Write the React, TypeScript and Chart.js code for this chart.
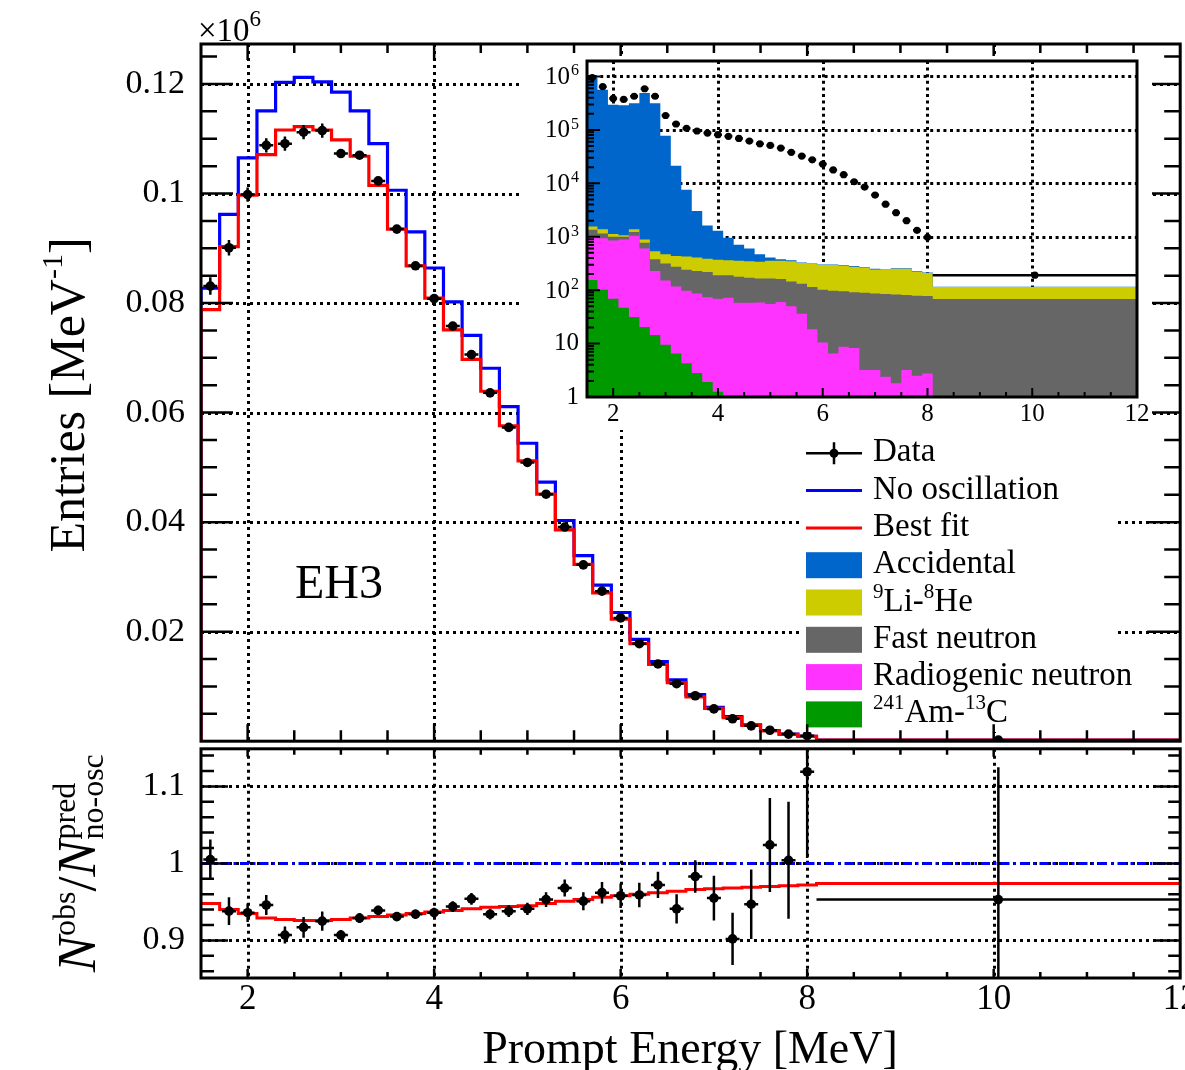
import React, { useEffect, useRef } from "react";
import { Chart, registerables } from "chart.js";

Chart.register(...registerables);

const SERIF = "'Liberation Serif', 'Times New Roman', Times, serif";

// ---------------- data ----------------
const binEdges = [1.5, 1.7, 1.9, 2.1, 2.3, 2.5, 2.7, 2.9, 3.1, 3.3, 3.5, 3.7, 3.9, 4.1, 4.3, 4.5, 4.7, 4.9, 5.1, 5.3, 5.5, 5.7, 5.9, 6.1, 6.3, 6.5, 6.7, 6.9, 7.1, 7.3, 7.5, 7.7, 7.9, 8.1, 12];

// main panel, entries per MeV (x10^6)
const noOscillation = [0.0827, 0.0962, 0.1065, 0.1151, 0.1203, 0.1212, 0.1204, 0.1185, 0.1151, 0.1091, 0.1006, 0.0930, 0.0864, 0.0802, 0.0741, 0.0681, 0.0611, 0.0544, 0.0473, 0.0403, 0.0339, 0.0285, 0.0235, 0.0186, 0.01455, 0.0112, 0.0085, 0.0062, 0.0045, 0.0030, 0.00195, 0.0013, 0.0009, 0.0002];
const bestFit = [0.0788, 0.0903, 0.0997, 0.1071, 0.1116, 0.1122, 0.1116, 0.1098, 0.1068, 0.1015, 0.0935, 0.0868, 0.0809, 0.0751, 0.0697, 0.0639, 0.0576, 0.0512, 0.0451, 0.0386, 0.0323, 0.0271, 0.0223, 0.0178, 0.0140, 0.0107, 0.0081, 0.0060, 0.0043, 0.0029, 0.0019, 0.00125, 0.00088, 0.0002];
const dataMain = [0.0831, 0.0901, 0.0998, 0.1088, 0.1091, 0.1112, 0.1115, 0.1073, 0.1070, 0.1023, 0.0935, 0.0868, 0.0808, 0.0758, 0.0706, 0.0636, 0.0573, 0.0509, 0.0451, 0.0391, 0.0322, 0.0274, 0.0225, 0.0178, 0.0141, 0.0105, 0.0083, 0.0059, 0.0041, 0.0028, 0.0020, 0.0013, 0.0010, 0.00019];
const dataMainErr = [0.0016, 0.0014, 0.0013, 0.0013, 0.0013, 0.0013, 0.0013, 0.0007, 0.0007, 0.0006, 0.0006, 0.0006, 0.0005, 0.0005, 0.0005, 0.0005, 0.0005, 0.0004, 0.0004, 0.0004, 0.0004, 0.0004, 0.0003, 0.0003, 0.0003, 0.0002, 0.0002, 0.0002, 0.00015, 0.00013, 0.00012, 0.0001, 0.0001, 0.00003];

// ratio panel
const ratioData = [1.005, 0.938, 0.936, 0.946, 0.907, 0.917, 0.925, 0.907, 0.929, 0.939, 0.931, 0.934, 0.936, 0.944, 0.954, 0.934, 0.938, 0.941, 0.953, 0.968, 0.951, 0.962, 0.958, 0.959, 0.972, 0.941, 0.983, 0.955, 0.902, 0.947, 1.024, 1.004, 1.119, 0.953];
const ratioErr = [0.026, 0.018, 0.012, 0.013, 0.011, 0.0135, 0.0125, 0.0065, 0.0065, 0.006, 0.006, 0.006, 0.0065, 0.007, 0.0077, 0.007, 0.0075, 0.008, 0.0096, 0.011, 0.0117, 0.014, 0.016, 0.016, 0.017, 0.019, 0.021, 0.029, 0.034, 0.045, 0.061, 0.076, 0.112, 0.172];
const ratioBestFit = [0.948, 0.940, 0.935, 0.929, 0.927, 0.926, 0.926, 0.927, 0.929, 0.931, 0.933, 0.935, 0.937, 0.939, 0.941, 0.943, 0.944, 0.945, 0.948, 0.951, 0.953, 0.956, 0.958, 0.960, 0.962, 0.964, 0.966, 0.967, 0.968, 0.969, 0.970, 0.971, 0.972, 0.974];
const ratioNoOsc = [1, 1];

// inset (log scale), stacked layer tops
const insetData = [955000, 646000, 389000, 372000, 427000, 589000, 427000, 186000, 129000, 107000, 95500, 87100, 81300, 75900, 69200, 61700, 55000, 51300, 45700, 38000, 32400, 27500, 22900, 17800, 14500, 10700, 8500, 6030, 4070, 2820, 2000, 1320, 977, 191];
const accidentalTop = [933000, 562000, 295000, 288000, 316000, 490000, 316000, 77600, 21400, 7590, 3020, 1620, 1290, 955, 708, 603, 468, 407, 380, 363, 331, 316, 302, 302, 295, 282, 269, 251, 245, 257, 257, 229, 214, 116];
const liHeTop = [1549, 1380, 1122, 1072, 1380, 891, 537, 468, 437, 427, 407, 389, 372, 363, 355, 347, 339, 355, 355, 347, 324, 309, 295, 295, 288, 275, 263, 245, 240, 251, 251, 224, 209, 115];
const fastNeutronTop = [1349, 1148, 1000, 1000, 1230, 776, 380, 316, 275, 240, 229, 219, 191, 191, 178, 170, 166, 166, 162, 145, 132, 115, 102, 98, 95, 91, 89, 87, 85, 83, 81, 79, 78, 68];
const radiogenicTop = [1000, 933, 851, 891, 1047, 603, 229, 151, 117, 98, 87, 74, 69, 72, 58, 58, 59, 55, 60, 50, 36, 18.6, 10.5, 6.5, 8.7, 8.3, 3.2, 3.2, 2.4, 1.8, 3.2, 2.5, 2.75, 1];
const amcTop = [155, 102, 69, 47, 31.6, 20.4, 14.5, 9.5, 6.5, 4.3, 2.8, 1.9, 1.25, 1, 1, 1, 1, 1, 1, 1, 1, 1, 1, 1, 1, 1, 1, 1, 1, 1, 1, 1, 1, 1];

// ticks / labels
const energyTickLabels = [2, 4, 6, 8, 10, 12];
const mainYTickLabels = [0.02, 0.04, 0.06, 0.08, 0.1, 0.12];
const ratioYTickLabels = [0.9, 1, 1.1];
const insetDecades = [0, 1, 2, 3, 4, 5, 6];

const COLORS = {
  blue: "#0000ff",
  red: "#ff0000",
  accidental: "#0066cc",
  lihe: "#cccc00",
  fastn: "#666666",
  radiogenic: "#ff33ff",
  amc: "#009900",
};

// ---------------- helpers ----------------
const centers = binEdges.slice(0, -1).map((e, i) => (e + binEdges[i + 1]) / 2);
const xHalf = binEdges.slice(0, -1).map((e, i) => {
  const w = binEdges[i + 1] - e;
  return w > 0.5 ? w / 2 : 0.075;
});

function stepPoints(values: number[], floor?: number) {
  const pts: { x: number; y: number }[] = [];
  if (floor !== undefined) pts.push({ x: binEdges[0], y: floor });
  values.forEach((v, i) => {
    pts.push({ x: binEdges[i], y: v });
    pts.push({ x: binEdges[i + 1], y: v });
  });
  return pts;
}

const energyMajor = energyTickLabels.slice();
const energyMinor: number[] = [];
for (let k = 4; k <= 23; k++) {
  const v = k * 0.5;
  if (v % 2 !== 0) energyMinor.push(v);
}
const mainYMinor: number[] = [];
for (let k = 1; k <= 25; k++) if (k % 4 !== 0) mainYMinor.push(k * 0.005);
const mainYMajor = [0, ...mainYTickLabels];
const ratioYMinor: number[] = [];
for (let k = 43; k <= 57; k++) if (k % 5 !== 0) ratioYMinor.push(k * 0.02);
const insetYMajor = insetDecades.map((d) => Math.pow(10, d));
const insetYMinor: number[] = [];
insetDecades.forEach((d) => {
  for (let m = 2; m <= 9; m++) insetYMinor.push(m * Math.pow(10, d));
});

type Part = { t: string; size: number; dy?: number; italic?: boolean };
function fontOf(p: Part) {
  return `${p.italic ? "italic " : ""}${p.size}px ${SERIF}`;
}
function partsWidth(ctx: CanvasRenderingContext2D, parts: Part[]) {
  let w = 0;
  for (const p of parts) {
    ctx.font = fontOf(p);
    w += ctx.measureText(p.t).width;
  }
  return w;
}
function drawParts(ctx: CanvasRenderingContext2D, x: number, y: number, parts: Part[]) {
  let cx = x;
  for (const p of parts) {
    ctx.font = fontOf(p);
    ctx.fillText(p.t, cx, y + (p.dy || 0));
    cx += ctx.measureText(p.t).width;
  }
  return cx;
}

function gridPlugin(xVals: number[], yVals: number[], lw: number, dash: number[]) {
  return {
    id: "rootGrid",
    beforeDatasetsDraw(chart: any) {
      const { ctx, chartArea: a, scales } = chart;
      ctx.save();
      ctx.strokeStyle = "#000";
      ctx.lineWidth = lw;
      ctx.setLineDash(dash);
      ctx.beginPath();
      for (const v of xVals) {
        const px = Math.round(scales.x.getPixelForValue(v)) + 0.5;
        if (px <= a.left + 1 || px >= a.right - 1) continue;
        ctx.moveTo(px, a.top);
        ctx.lineTo(px, a.bottom);
      }
      for (const v of yVals) {
        const py = Math.round(scales.y.getPixelForValue(v)) + 0.5;
        if (py <= a.top + 1 || py >= a.bottom - 1) continue;
        ctx.moveTo(a.left, py);
        ctx.lineTo(a.right, py);
      }
      ctx.stroke();
      ctx.restore();
    },
  };
}

function errorBarsPlugin(xs: number[], ys: number[], xh: number[], ye: number[], lw: number) {
  return {
    id: "errorBars",
    afterDatasetsDraw(chart: any) {
      const { ctx, chartArea: a, scales } = chart;
      const sx = scales.x;
      const sy = scales.y;
      ctx.save();
      ctx.beginPath();
      ctx.rect(a.left, a.top, a.right - a.left, a.bottom - a.top);
      ctx.clip();
      ctx.strokeStyle = "#000";
      ctx.lineWidth = lw;
      ctx.beginPath();
      for (let i = 0; i < xs.length; i++) {
        const px = sx.getPixelForValue(xs[i]);
        const py = sy.getPixelForValue(ys[i]);
        ctx.moveTo(sx.getPixelForValue(xs[i] - xh[i]), py);
        ctx.lineTo(sx.getPixelForValue(xs[i] + xh[i]), py);
        if (ye[i] > 0) {
          ctx.moveTo(px, sy.getPixelForValue(ys[i] + ye[i]));
          ctx.lineTo(px, sy.getPixelForValue(ys[i] - ye[i]));
        }
      }
      ctx.stroke();
      ctx.restore();
    },
  };
}

type Len = [number, number];
function framePlugin(spec: {
  xMajor: number[];
  xMinor: number[];
  yMajor: number[];
  yMinor: number[];
  left: Len;
  right: Len;
  top: Len;
  bottom: Len;
  tickLw: number;
  frameLw: number;
}) {
  return {
    id: "rootFrame",
    afterDraw(chart: any) {
      const { ctx, chartArea: a, scales } = chart;
      ctx.save();
      ctx.strokeStyle = "#000";
      ctx.setLineDash([]);
      ctx.lineWidth = spec.tickLw;
      ctx.beginPath();
      const xs: [number[], number][] = [
        [spec.xMajor, 0],
        [spec.xMinor, 1],
      ];
      for (const [vals, k] of xs) {
        for (const v of vals) {
          const px = scales.x.getPixelForValue(v);
          if (px <= a.left + 1 || px >= a.right - 1) continue;
          if (spec.bottom[k]) {
            ctx.moveTo(px, a.bottom);
            ctx.lineTo(px, a.bottom - spec.bottom[k]);
          }
          if (spec.top[k]) {
            ctx.moveTo(px, a.top);
            ctx.lineTo(px, a.top + spec.top[k]);
          }
        }
      }
      const ys: [number[], number][] = [
        [spec.yMajor, 0],
        [spec.yMinor, 1],
      ];
      for (const [vals, k] of ys) {
        for (const v of vals) {
          const py = scales.y.getPixelForValue(v);
          if (py <= a.top + 1 || py >= a.bottom - 1) continue;
          if (spec.left[k]) {
            ctx.moveTo(a.left, py);
            ctx.lineTo(a.left + spec.left[k], py);
          }
          if (spec.right[k]) {
            ctx.moveTo(a.right, py);
            ctx.lineTo(a.right - spec.right[k], py);
          }
        }
      }
      ctx.stroke();
      ctx.lineWidth = spec.frameLw;
      ctx.strokeRect(a.left, a.top, a.right - a.left, a.bottom - a.top);
      ctx.restore();
    },
  };
}

function fixAxis(size: number, horizontal: boolean) {
  return (s: any) => {
    if (horizontal) s.height = size;
    else s.width = size;
    s.paddingTop = 0;
    s.paddingBottom = 0;
    s.paddingLeft = 0;
    s.paddingRight = 0;
  };
}

const legendRows: { kind: string; color: string; parts: { t: string; sup?: boolean }[] }[] = [
  { kind: "data", color: "#000", parts: [{ t: "Data" }] },
  { kind: "line", color: COLORS.blue, parts: [{ t: "No oscillation" }] },
  { kind: "line", color: COLORS.red, parts: [{ t: "Best fit" }] },
  { kind: "box", color: COLORS.accidental, parts: [{ t: "Accidental" }] },
  { kind: "box", color: COLORS.lihe, parts: [{ t: "9", sup: true }, { t: "Li-" }, { t: "8", sup: true }, { t: "He" }] },
  { kind: "box", color: COLORS.fastn, parts: [{ t: "Fast neutron" }] },
  { kind: "box", color: COLORS.radiogenic, parts: [{ t: "Radiogenic neutron" }] },
  { kind: "box", color: COLORS.amc, parts: [{ t: "241", sup: true }, { t: "Am-" }, { t: "13", sup: true }, { t: "C" }] },
];

const mainTextPlugin = {
  id: "mainText",
  afterDatasetsDraw(chart: any) {
    const ctx: CanvasRenderingContext2D = chart.ctx;
    ctx.save();
    // legend
    ctx.fillStyle = "#fff";
    ctx.fillRect(800, 429, 315, 303);
    legendRows.forEach((row, i) => {
      const c = 453.3 + 37.3 * i;
      if (row.kind === "box") {
        ctx.fillStyle = row.color;
        ctx.fillRect(806, c - 13, 56, 26);
      } else if (row.kind === "line") {
        ctx.strokeStyle = row.color;
        ctx.lineWidth = 3;
        ctx.beginPath();
        ctx.moveTo(806, c);
        ctx.lineTo(862, c);
        ctx.stroke();
      } else {
        ctx.strokeStyle = "#000";
        ctx.lineWidth = 2.5;
        ctx.beginPath();
        ctx.moveTo(806, c);
        ctx.lineTo(862, c);
        ctx.moveTo(834, c - 11);
        ctx.lineTo(834, c + 11);
        ctx.stroke();
        ctx.fillStyle = "#000";
        ctx.beginPath();
        ctx.arc(834, c, 4.5, 0, Math.PI * 2);
        ctx.fill();
      }
      ctx.fillStyle = "#000";
      ctx.textAlign = "left";
      ctx.textBaseline = "alphabetic";
      drawParts(
        ctx,
        873,
        c + 8,
        row.parts.map((p) => (p.sup ? { t: p.t, size: 21, dy: -13 } : { t: p.t, size: 33 }))
      );
    });
    ctx.restore();
  },
  afterDraw(chart: any) {
    const ctx: CanvasRenderingContext2D = chart.ctx;
    ctx.save();
    ctx.fillStyle = "#000";
    ctx.textAlign = "left";
    ctx.textBaseline = "alphabetic";
    // x10^6
    drawParts(ctx, 198, 41, [
      { t: "\u00d710", size: 33 },
      { t: "6", size: 23, dy: -15 },
    ]);
    // EH3
    ctx.font = `48px ${SERIF}`;
    ctx.fillText("EH3", 295, 598);
    // y title
    ctx.translate(84, 395);
    ctx.rotate(-Math.PI / 2);
    const parts: Part[] = [
      { t: "Entries [MeV", size: 50 },
      { t: "-1", size: 30, dy: -22 },
      { t: "]", size: 50 },
    ];
    const w = partsWidth(ctx, parts);
    drawParts(ctx, -w / 2, 0, parts);
    ctx.restore();
  },
};

const ratioTextPlugin = {
  id: "ratioText",
  afterDraw(chart: any) {
    const ctx: CanvasRenderingContext2D = chart.ctx;
    ctx.save();
    ctx.fillStyle = "#000";
    ctx.textBaseline = "alphabetic";
    ctx.textAlign = "center";
    ctx.font = `46px ${SERIF}`;
    ctx.fillText("Prompt Energy [MeV]", 690, 319);
    ctx.textAlign = "left";
    ctx.translate(95, 228);
    ctx.rotate(-Math.PI / 2);
    const x = drawParts(ctx, 0, 0, [
      { t: "N", size: 54, italic: true },
      { t: "obs", size: 32, dy: -20 },
      { t: "/", size: 54 },
      { t: "N", size: 54, italic: true },
    ]);
    drawParts(ctx, x + 1, 0, [{ t: "pred", size: 32, dy: -20 }]);
    drawParts(ctx, x + 1, 0, [{ t: "no-osc", size: 32, dy: 8 }]);
    ctx.restore();
  },
};

const insetTextPlugin = {
  id: "insetText",
  beforeDraw(chart: any) {
    const ctx: CanvasRenderingContext2D = chart.ctx;
    ctx.save();
    ctx.fillStyle = "#fff";
    ctx.fillRect(0, 0, chart.width, chart.height);
    ctx.restore();
  },
  afterDraw(chart: any) {
    const ctx: CanvasRenderingContext2D = chart.ctx;
    const a = chart.chartArea;
    const sy = chart.scales.y;
    ctx.save();
    ctx.fillStyle = "#000";
    const xr = a.left - 8;
    insetDecades.forEach((d) => {
      const py = sy.getPixelForValue(Math.pow(10, d));
      ctx.textAlign = "right";
      ctx.textBaseline = "middle";
      ctx.font = `25px ${SERIF}`;
      if (d === 0) {
        ctx.fillText("1", xr, py);
      } else if (d === 1) {
        ctx.fillText("10", xr, py);
      } else {
        ctx.font = `16px ${SERIF}`;
        const ew = ctx.measureText(String(d)).width;
        ctx.textBaseline = "alphabetic";
        ctx.fillText(String(d), xr, py - 1);
        ctx.font = `25px ${SERIF}`;
        ctx.textBaseline = "middle";
        ctx.fillText("10", xr - ew - 1, py + 1);
      }
    });
    ctx.restore();
  },
};

const tickFont = (size: number) => ({ family: SERIF, size });

export default function App() {
  const mainRef = useRef<HTMLCanvasElement>(null);
  const ratioRef = useRef<HTMLCanvasElement>(null);
  const insetRef = useRef<HTMLCanvasElement>(null);

  useEffect(() => {
    const charts: Chart[] = [];

    // ---------- main panel ----------
    charts.push(
      new Chart(mainRef.current as HTMLCanvasElement, {
        type: "line",
        data: {
          datasets: [
            {
              label: "Data",
              data: centers.map((x, i) => ({ x, y: dataMain[i] })),
              showLine: false,
              pointRadius: 4.8,
              pointBackgroundColor: "#000",
              pointBorderWidth: 0,
              order: 0,
            },
            {
              label: "Best fit",
              data: stepPoints(bestFit, 0),
              borderColor: COLORS.red,
              borderWidth: 3.2,
              pointRadius: 0,
              fill: false,
              order: 1,
            },
            {
              label: "No oscillation",
              data: stepPoints(noOscillation, 0),
              borderColor: COLORS.blue,
              borderWidth: 3.2,
              pointRadius: 0,
              fill: false,
              order: 2,
            },
          ] as any,
        },
        options: {
          responsive: false,
          animation: false,
          devicePixelRatio: 1,
          events: [],
          layout: { padding: { top: 44, left: 0, right: 3, bottom: 1 } },
          plugins: { legend: { display: false }, tooltip: { enabled: false } },
          scales: {
            x: { type: "linear", min: 1.5, max: 12, display: false },
            y: {
              type: "linear",
              min: 0,
              max: 0.1273,
              afterBuildTicks: (s: any) => {
                s.ticks = mainYTickLabels.map((v) => ({ value: v }));
              },
              afterFit: fixAxis(201, false),
              grid: { display: false, drawTicks: false },
              border: { display: false },
              ticks: {
                callback: (v: any) => String(v),
                font: tickFont(34),
                color: "#000",
                padding: 16,
                autoSkip: false,
              },
            },
          },
        } as any,
        plugins: [
          gridPlugin(energyTickLabels, mainYTickLabels, 3, [3, 4]),
          errorBarsPlugin(centers, dataMain, xHalf, dataMainErr, 2.5),
          mainTextPlugin,
          framePlugin({
            xMajor: energyMajor,
            xMinor: energyMinor,
            yMajor: mainYMajor,
            yMinor: mainYMinor,
            left: [32, 16],
            right: [33, 16],
            top: [16, 9],
            bottom: [17, 11],
            tickLw: 2.5,
            frameLw: 3,
          }),
        ] as any,
      })
    );

    // ---------- ratio panel ----------
    charts.push(
      new Chart(ratioRef.current as HTMLCanvasElement, {
        type: "line",
        data: {
          datasets: [
            {
              label: "Data",
              data: centers.map((x, i) => ({ x, y: ratioData[i] })),
              showLine: false,
              pointRadius: 4.8,
              pointBackgroundColor: "#000",
              pointBorderWidth: 0,
              order: 0,
            },
            {
              label: "Best fit",
              data: stepPoints(ratioBestFit),
              borderColor: COLORS.red,
              borderWidth: 3,
              pointRadius: 0,
              fill: false,
              order: 1,
            },
            {
              label: "No oscillation",
              data: [
                { x: binEdges[0], y: ratioNoOsc[0] },
                { x: binEdges[binEdges.length - 1], y: ratioNoOsc[1] },
              ],
              borderColor: COLORS.blue,
              borderWidth: 3,
              borderDash: [9, 4, 2.5, 4],
              pointRadius: 0,
              fill: false,
              order: 2,
            },
          ] as any,
        },
        options: {
          responsive: false,
          animation: false,
          devicePixelRatio: 1,
          events: [],
          layout: { padding: { top: 1, left: 0, right: 3, bottom: 0 } },
          plugins: { legend: { display: false }, tooltip: { enabled: false } },
          scales: {
            x: {
              type: "linear",
              min: 1.5,
              max: 12,
              afterBuildTicks: (s: any) => {
                s.ticks = energyTickLabels.map((v) => ({ value: v }));
              },
              afterFit: fixAxis(92, true),
              grid: { display: false, drawTicks: false },
              border: { display: false },
              ticks: {
                callback: (v: any) => String(v),
                font: tickFont(35),
                color: "#000",
                padding: 1,
                maxRotation: 0,
                autoSkip: false,
              },
            },
            y: {
              type: "linear",
              min: 0.8512,
              max: 1.1488,
              afterBuildTicks: (s: any) => {
                s.ticks = ratioYTickLabels.map((v) => ({ value: v }));
              },
              afterFit: fixAxis(201, false),
              grid: { display: false, drawTicks: false },
              border: { display: false },
              ticks: {
                callback: (v: any) => String(v),
                font: tickFont(34),
                color: "#000",
                padding: 16,
                autoSkip: false,
              },
            },
          },
        } as any,
        plugins: [
          gridPlugin(energyTickLabels, ratioYTickLabels, 3, [3, 4]),
          errorBarsPlugin(centers, ratioData, xHalf, ratioErr, 2.5),
          ratioTextPlugin,
          framePlugin({
            xMajor: energyMajor,
            xMinor: energyMinor,
            yMajor: ratioYTickLabels,
            yMinor: ratioYMinor,
            left: [27, 13],
            right: [27, 12],
            top: [8, 6],
            bottom: [9, 6],
            tickLw: 2.5,
            frameLw: 3,
          }),
        ] as any,
      })
    );

    // ---------- inset ----------
    const fillLayer = (label: string, vals: number[], color: string, order: number) => ({
      label,
      data: stepPoints(vals),
      borderWidth: 0,
      borderColor: color,
      backgroundColor: color,
      pointRadius: 0,
      fill: "start",
      order,
    });
    charts.push(
      new Chart(insetRef.current as HTMLCanvasElement, {
        type: "line",
        data: {
          datasets: [
            {
              label: "Data",
              data: centers.map((x, i) => ({ x, y: insetData[i] })),
              showLine: false,
              pointRadius: 3.6,
              pointBackgroundColor: "#000",
              pointBorderWidth: 0,
              order: 0,
            },
            fillLayer("241Am-13C", amcTop, COLORS.amc, 1),
            fillLayer("Radiogenic neutron", radiogenicTop, COLORS.radiogenic, 2),
            fillLayer("Fast neutron", fastNeutronTop, COLORS.fastn, 3),
            fillLayer("9Li-8He", liHeTop, COLORS.lihe, 4),
            fillLayer("Accidental", accidentalTop, COLORS.accidental, 5),
          ] as any,
        },
        options: {
          responsive: false,
          animation: false,
          devicePixelRatio: 1,
          events: [],
          layout: { padding: { top: 5, left: 0, right: 15, bottom: 0 } },
          plugins: { legend: { display: false }, tooltip: { enabled: false } },
          scales: {
            x: {
              type: "linear",
              min: 1.5,
              max: 12,
              afterBuildTicks: (s: any) => {
                s.ticks = energyTickLabels.map((v) => ({ value: v }));
              },
              afterFit: fixAxis(33, true),
              grid: { display: false, drawTicks: false },
              border: { display: false },
              ticks: {
                callback: (v: any) => String(v),
                font: tickFont(25),
                color: "#000",
                padding: 2,
                maxRotation: 0,
                autoSkip: false,
              },
            },
            y: {
              type: "logarithmic",
              min: 1,
              max: 1.95e6,
              afterFit: fixAxis(65, false),
              grid: { display: false, drawTicks: false },
              border: { display: false },
              ticks: { display: false },
            },
          },
        } as any,
        plugins: [
          insetTextPlugin,
          gridPlugin([2, 4, 6, 8, 10], insetYMajor, 3, [3, 3.6]),
          errorBarsPlugin(
            centers,
            insetData,
            xHalf,
            centers.map(() => 0),
            2.5
          ),
          framePlugin({
            xMajor: energyMajor,
            xMinor: energyMinor,
            yMajor: insetYMajor,
            yMinor: insetYMinor,
            left: [13, 7],
            right: [0, 0],
            top: [0, 0],
            bottom: [9, 5],
            tickLw: 2,
            frameLw: 3,
          }),
        ] as any,
      })
    );

    return () => charts.forEach((c) => c.destroy());
  }, []);

  return (
    <div
      style={{
        position: "fixed",
        left: 0,
        top: 0,
        width: 1185,
        height: 1070,
        background: "#fff",
        overflow: "hidden",
      }}
    >
      <canvas
        ref={mainRef}
        width={1185}
        height={746}
        style={{ position: "absolute", left: 0, top: 0, width: 1185, height: 746 }}
      />
      <canvas
        ref={ratioRef}
        width={1185}
        height={326}
        style={{ position: "absolute", left: 0, top: 744, width: 1185, height: 326 }}
      />
      <canvas
        ref={insetRef}
        width={630}
        height={374}
        style={{ position: "absolute", left: 522, top: 56, width: 630, height: 374 }}
      />
    </div>
  );
}
